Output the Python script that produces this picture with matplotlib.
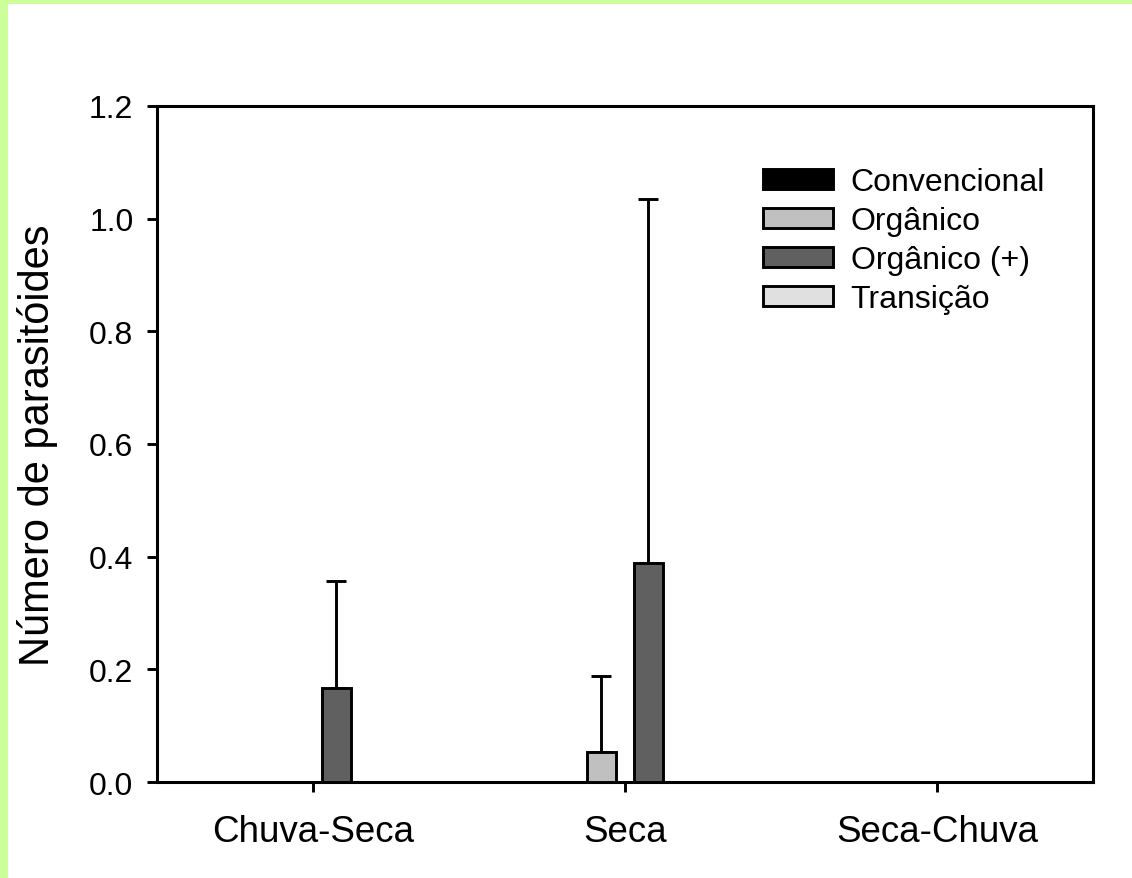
import numpy as np
import matplotlib
matplotlib.use("Agg")
import matplotlib.pyplot as plt
from matplotlib.patches import Rectangle

plt.rcParams['font.family'] = ['Liberation Sans', 'DejaVu Sans']

categories = ["Chuva-Seca", "Seca", "Seca-Chuva"]
series = ["Convencional", "Orgânico", "Orgânico (+)", "Transição"]
colors = ["#000000", "#C0C0C0", "#606060", "#E0E0E0"]
# mean values per series (rows) and season (columns)
means = [
    [0.0, 0.0, 0.0],
    [0.0, 0.054, 0.0],
    [0.167, 0.389, 0.0],
    [0.0, 0.0, 0.0],
]
# upper error (SD)
errors = [
    [0.0, 0.0, 0.0],
    [0.0, 0.135, 0.0],
    [0.190, 0.646, 0.0],
    [0.0, 0.0, 0.0],
]
yticks = [0.0, 0.2, 0.4, 0.6, 0.8, 1.0, 1.2]

LW = 2.1

fig = plt.figure(figsize=(11.32, 8.79), dpi=100)
fig.patch.set_facecolor("white")
# green frame along top and left edge
green = "#CCFF99"
fig.patches.append(Rectangle((0, 1 - 5 / 879), 1, 5 / 879, transform=fig.transFigure,
                             facecolor=green, edgecolor="none", zorder=-10))
fig.patches.append(Rectangle((0, 0), 8 / 1132, 1, transform=fig.transFigure,
                             facecolor=green, edgecolor="none", zorder=-10))

ax = fig.add_axes([0.1387, 0.1092, 0.8268, 0.7691])
ax.patch.set_alpha(0)
x = np.arange(len(categories))
step = 0.1506
width = 0.093

for i, name in enumerate(series):
    pos = x + (i - 1.5) * step
    vals = np.array(means[i])
    errs = np.array(errors[i])
    show = vals > 0
    ax.bar(pos[show], vals[show], width, color=colors[i], edgecolor="black",
           linewidth=LW, zorder=3)
    has_err = errs > 0
    if has_err.any():
        ax.errorbar(pos[has_err], vals[has_err],
                    yerr=[np.zeros(has_err.sum()), errs[has_err]],
                    fmt="none", ecolor="black", elinewidth=LW, capsize=7.5,
                    capthick=LW, zorder=2)

handles = [Rectangle((0, 0), 1, 1, facecolor=c, edgecolor="black", linewidth=LW)
           for c in colors]
ax.legend(handles, series, loc="upper left", bbox_to_anchor=(0.6335, 0.928),
          frameon=False, fontsize=23, handlelength=2.2, handleheight=0.6,
          handletextpad=0.55, labelspacing=0.28, borderaxespad=0)

ax.set_xlim(-0.5, 2.5)
ax.set_ylim(0, 1.2)
ax.set_xticks(x)
ax.set_xticklabels(categories, fontsize=26.5)
ax.set_yticks(yticks)
ax.set_yticklabels([f"{v:.1f}" for v in yticks], fontsize=23)
ax.tick_params(direction="out", length=7, width=LW, pad=10)
ax.tick_params(axis="x", pad=16)
for s in ax.spines.values():
    s.set_linewidth(2.2)
ax.set_ylabel("Número de parasitóides", fontsize=30, labelpad=22)

fig.savefig("out.png", dpi=100)
